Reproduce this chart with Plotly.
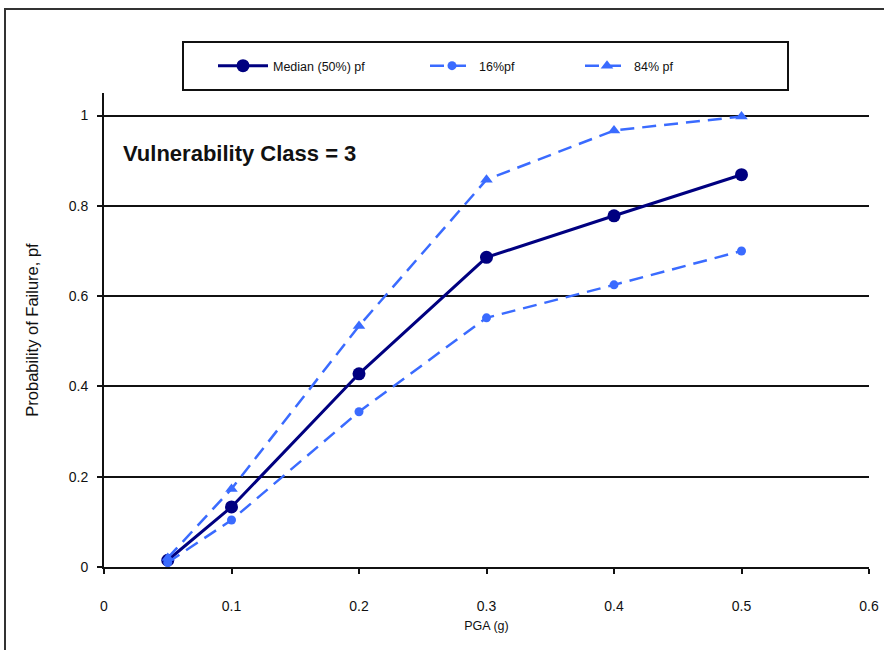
import plotly.graph_objects as go

pga = [0.05, 0.1, 0.2, 0.3, 0.4, 0.5]
median_pf = [0.015, 0.133, 0.428, 0.686, 0.778, 0.869]
pf_16 = [0.010, 0.104, 0.344, 0.552, 0.625, 0.700]
pf_84 = [0.020, 0.173, 0.534, 0.858, 0.967, 0.998]

names = ["Median (50%) pf", "16%pf", "84% pf"]
x_ticks = [0, 0.1, 0.2, 0.3, 0.4, 0.5, 0.6]
y_ticks = [0, 0.2, 0.4, 0.6, 0.8, 1]

W, H = 884, 650
L, R, T, B = 104, 15, 93, 83
pw, ph = W - L - R, H - T - B

def px(xp):
    return (xp - L) / pw

def py(yp):
    return (H - B - yp) / ph

navy = "#000080"
blue = "#3A6BFF"
font = "Liberation Sans, Arial, sans-serif"
ink = "#111"

fig = go.Figure()
fig.add_trace(go.Scatter(x=pga, y=median_pf, name=names[0], mode="lines+markers",
                         line=dict(color=navy, width=3),
                         marker=dict(symbol="circle", size=13, color=navy),
                         legend="legend", showlegend=True))
fig.add_trace(go.Scatter(x=pga, y=pf_16, name=names[1], mode="lines+markers",
                         line=dict(color=blue, width=2.5, dash="14px,8px"),
                         marker=dict(symbol="circle", size=9, color=blue),
                         legend="legend2", showlegend=True))
fig.add_trace(go.Scatter(x=pga, y=pf_84, name=names[2], mode="lines+markers",
                         line=dict(color=blue, width=2.5, dash="14px,8px"),
                         marker=dict(symbol="triangle-up", size=11, color=blue),
                         legend="legend3", showlegend=True))

def leg(xp, iw):
    return dict(x=px(xp), y=py(66), orientation="h", yanchor="middle", xanchor="left",
                bgcolor="rgba(0,0,0,0)", borderwidth=0, itemwidth=iw, visible=True,
                font=dict(family=font, size=12.5, color=ink))

fig.update_layout(
    width=W, height=H,
    margin=dict(l=L, r=R, t=T, b=B, autoexpand=False),
    paper_bgcolor="white", plot_bgcolor="white",
    showlegend=True,
    font=dict(family=font, size=13, color=ink),
    legend=leg(213, 50),
    legend2=leg(425, 44),
    legend3=leg(580, 44),
    xaxis=dict(range=[0, 0.6], tickvals=x_ticks, ticktext=[str(v) for v in x_ticks],
               automargin=False,
               showgrid=False, zeroline=False, showline=True, linecolor=ink, linewidth=2,
               ticks="outside", ticklen=5, tickwidth=2, tickcolor=ink,
               ticklabelstandoff=20,
               tickfont=dict(family=font, size=14, color=ink),
               title=dict(text="PGA (g)", font=dict(family=font, size=12.5, color=ink),
                          standoff=8)),
    yaxis=dict(range=[0, 1.05], tickvals=y_ticks, ticktext=[str(v) for v in y_ticks],
               automargin=False,
               showgrid=True, gridcolor=ink, gridwidth=1.5, zeroline=False,
               showline=True, linecolor=ink, linewidth=2,
               ticks="outside", ticklen=5, tickwidth=2, tickcolor=ink,
               ticklabelstandoff=6,
               tickfont=dict(family=font, size=14, color=ink),
               title=dict(text="Probability of Failure, pf",
                          font=dict(family=font, size=16.5, color=ink), standoff=26)),
    shapes=[
        dict(type="rect", xref="paper", yref="paper",
             x0=px(5), x1=px(900), y0=py(700), y1=py(9),
             line=dict(color="#333", width=2), layer="below"),
        dict(type="rect", xref="paper", yref="paper",
             x0=px(183), x1=px(788), y0=py(90), y1=py(42),
             line=dict(color=ink, width=2), fillcolor="white", layer="below"),
    ],
    annotations=[
        dict(text="<b>Vulnerability Class = 3</b>", xref="paper", yref="paper",
             x=px(121), y=py(153), xanchor="left", yanchor="middle", showarrow=False,
             font=dict(family=font, size=22, color=ink)),
    ],
)

fig.write_html("out.html", config={"displayModeBar": False},
               post_script="document.body.style.margin='0';")
